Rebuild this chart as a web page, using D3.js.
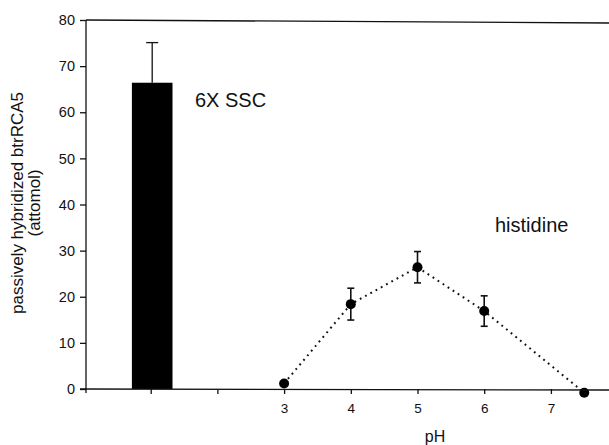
<!DOCTYPE html>
<html>
<head>
<meta charset="utf-8">
<script src="https://cdn.jsdelivr.net/npm/d3@7"></script>
<style>
  html, body { margin: 0; padding: 0; background: #fff; }
  svg { display: block; font-family: "Liberation Sans", Arial, Helvetica, sans-serif; }
</style>
</head>
<body>
<svg id="chart" width="609" height="445"></svg>
<script>
// Buffer condition (bar) and histidine pH series (points)
const barCategories = ["6X SSC"];
const barPositions = [1];          // position on the shared x scale
const barValues = [66.4];
const barErrors = [8.7];           // upper error only

const phValues = [3, 4, 5, 6, 7.5];
const histidineValues = [1.2, 18.4, 26.4, 16.9, -0.8];
const histidineErrors = [null, 3.45, 3.4, 3.3, null];

const xTickValues = [1, 2, 3, 4, 5, 6, 7];
const xTickLabels = ["", "", "3", "4", "5", "6", "7"];
const yTickValues = [0, 10, 20, 30, 40, 50, 60, 70, 80];

const svg = d3.select("#chart");
const W = 609, H = 445;

const x = d3.scaleLinear().domain([0, 8]).range([84, 617.6]);
const y = d3.scaleLinear().domain([0, 80]).range([389, 20]);
const axisX = 86;
const ink = "#111";

// Bar
const barW = 40.6;
svg.selectAll("rect.bar").data(barValues).enter().append("rect")
  .attr("x", (d, i) => x(barPositions[i]) - barW / 2 + 1.5)
  .attr("y", d => y(d))
  .attr("width", barW)
  .attr("height", d => y(0) - y(d))
  .attr("fill", "#000");

// Bar error (upper whisker)
barValues.forEach((v, i) => {
  const cx = x(barPositions[i]) + 1.5;
  const g = svg.append("g").attr("stroke", ink).attr("stroke-width", 1.3);
  g.append("line").attr("x1", cx).attr("x2", cx).attr("y1", y(v)).attr("y2", y(v + barErrors[i]));
  g.append("line").attr("x1", cx - 6).attr("x2", cx + 6).attr("y1", y(v + barErrors[i])).attr("y2", y(v + barErrors[i]));
});

// Dotted connecting line
const line = d3.line().x((d, i) => x(phValues[i])).y(d => y(d));
svg.append("path")
  .attr("d", line(histidineValues))
  .attr("fill", "none")
  .attr("stroke", ink)
  .attr("stroke-width", 2)
  .attr("stroke-dasharray", "1.8,4.2");

// Error bars on the histidine points
histidineValues.forEach((v, i) => {
  const e = histidineErrors[i];
  if (e == null) return;
  const cx = x(phValues[i]);
  const g = svg.append("g").attr("stroke", ink).attr("stroke-width", 1.6);
  g.append("line").attr("x1", cx).attr("x2", cx).attr("y1", y(v - e)).attr("y2", y(v + e));
  g.append("line").attr("x1", cx - 3.5).attr("x2", cx + 3.5).attr("y1", y(v + e)).attr("y2", y(v + e));
  g.append("line").attr("x1", cx - 3.5).attr("x2", cx + 3.5).attr("y1", y(v - e)).attr("y2", y(v - e));
});

// Points
svg.selectAll("circle.pt").data(histidineValues).enter().append("circle")
  .attr("cx", (d, i) => x(phValues[i]))
  .attr("cy", d => y(d))
  .attr("r", 5)
  .attr("fill", "#000");

// Y axis
const yAxis = d3.axisLeft(y).tickValues(yTickValues).tickSize(6).tickPadding(5);
const gy = svg.append("g").attr("transform", `translate(${axisX},0)`).call(yAxis);
gy.select(".domain").remove();
gy.append("line").attr("x1", 0).attr("x2", 0).attr("y1", y(80)).attr("y2", y(0) + 4)
  .attr("stroke", ink).attr("stroke-width", 1.3);
gy.selectAll(".tick line").attr("stroke", ink).attr("stroke-width", 1.3);
gy.selectAll(".tick text").attr("fill", ink).style("font-size", "14.5px")
  .style("font-family", "'Liberation Sans', Arial, sans-serif");

// X axis
const xAxis = d3.axisBottom(x).tickValues(xTickValues)
  .tickFormat((d, i) => xTickLabels[i]).tickSize(5).tickPadding(9);
const gx = svg.append("g").attr("transform", `translate(0,${y(0)})`).call(xAxis);
gx.select(".domain").remove();
gx.append("line").attr("x1", axisX - 6).attr("x2", W).attr("y1", 0).attr("y2", 1)
  .attr("stroke", ink).attr("stroke-width", 1.3);
gx.selectAll(".tick line").attr("stroke", ink).attr("stroke-width", 1.3);
gx.selectAll(".tick text").attr("fill", ink).style("font-size", "13.5px")
  .style("font-family", "'Liberation Sans', Arial, sans-serif");

// Top frame line
svg.append("line").attr("x1", axisX).attr("x2", W).attr("y1", y(80)).attr("y2", y(80) + 3)
  .attr("stroke", ink).attr("stroke-width", 1.3);

// Annotations
svg.append("text").attr("x", 195).attr("y", 107).attr("fill", ink)
  .style("font-size", "20px").text(barCategories[0]);
svg.append("text").attr("x", 495).attr("y", 232).attr("fill", ink)
  .style("font-size", "20px").text("histidine");

// Axis titles
svg.append("text").attr("x", 435).attr("y", 442).attr("text-anchor", "middle")
  .attr("fill", ink).style("font-size", "16px").text("pH");
const yt = svg.append("text").attr("transform", "translate(23,203) rotate(-90)")
  .attr("text-anchor", "middle").attr("fill", ink).style("font-size", "17px");
yt.append("tspan").attr("x", 0).attr("dy", 0).text("passively hybridized btrRCA5");
yt.append("tspan").attr("x", 0).attr("dy", 17).text("(attomol)");
</script>
</body>
</html>
